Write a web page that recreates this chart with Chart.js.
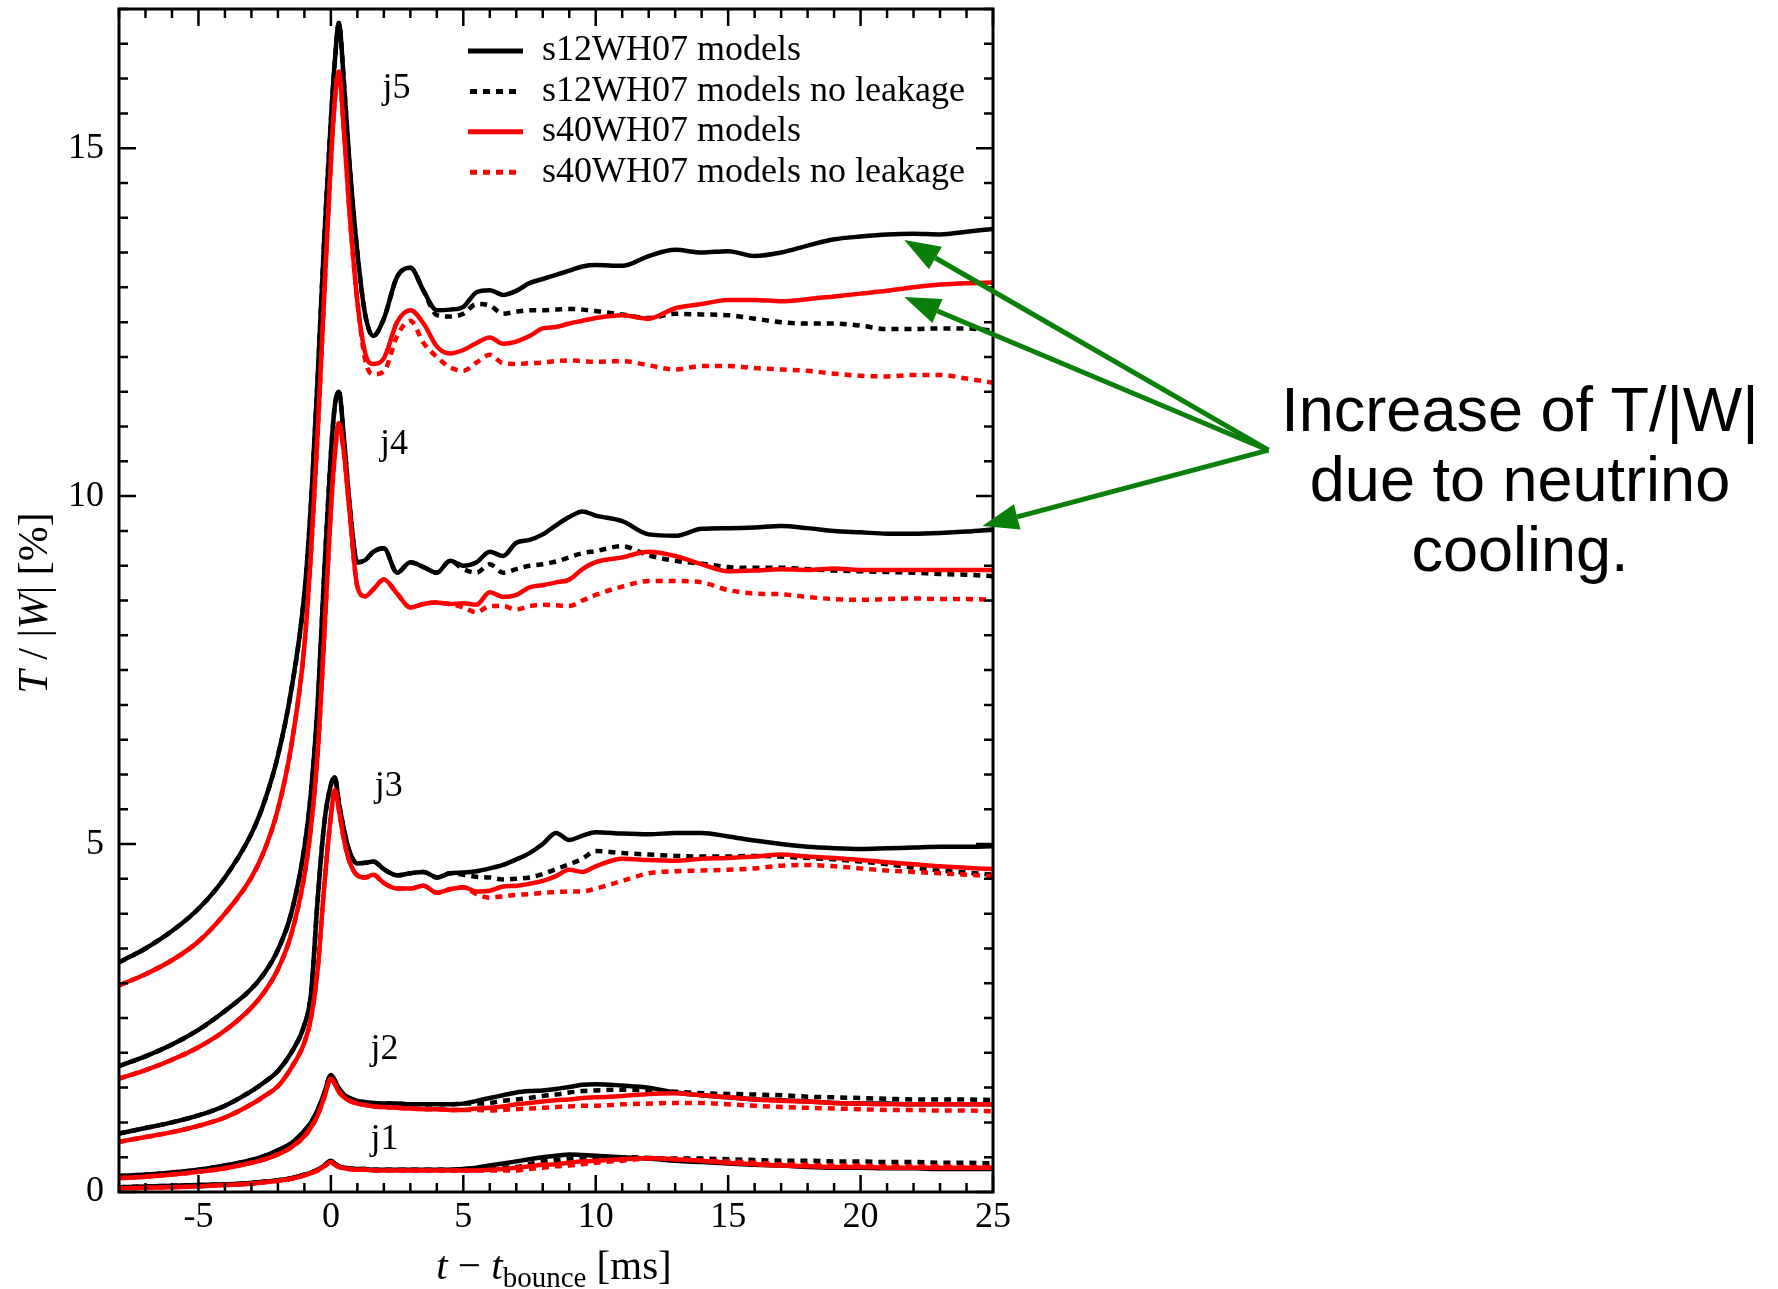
<!DOCTYPE html>
<html>
<head>
<meta charset="utf-8">
<title>T/|W| around bounce</title>
<script src="https://cdn.jsdelivr.net/npm/chart.js@4.4.1/dist/chart.umd.min.js"></script>
<style>
  html, body { margin: 0; padding: 0; background: #fff; }
</style>
</head>
<body>
<canvas id="twChart" width="1778" height="1289"></canvas>
<script>
/* Data: T/|W| [%] against t - t_bounce [ms] */
let tCollapse = [-8, -7, -6, -5, -4, -3, -2.5, -2, -1.5, -1, -0.75, -0.5, -0.25, 0, 0.15, 0.3, 0.5, 0.7, 1];
let tPost = [1.3, 1.6, 2, 2.5, 3, 3.5, 4, 4.5, 5, 5.5, 6, 6.5, 7, 7.5, 8, 8.5, 9, 9.5, 10,
             11, 12, 13, 14, 15, 16, 17, 18, 19, 20, 21, 22, 23, 24, 25];

let xTicks = [-5, 0, 5, 10, 15, 20, 25];
let yTicks = [0, 5, 10, 15];

let legendLabels = ["s12WH07 models", "s12WH07 models no leakage", "s40WH07 models", "s40WH07 models no leakage"];

/* j5 */
let j5_s12_collapse = [3.3, 3.5, 3.75, 4.07, 4.52, 5.15, 5.62, 6.27, 7.2, 8.6, 9.9, 11.7, 13.7, 15.4, 16.25, 16.8, 15.9, 14.8, 13.5];
let j5_s12_leak = [12.6, 12.3, 12.55, 13.15, 13.28, 12.95, 12.67, 12.68, 12.72, 12.93, 12.96, 12.89, 12.95, 13.06, 13.12, 13.18, 13.24, 13.3, 13.32,
                   13.31, 13.45, 13.54, 13.5, 13.52, 13.45, 13.5, 13.6, 13.69, 13.73, 13.76, 13.77, 13.76, 13.8, 13.84];
let j5_s12_noleak = [12.6, 12.3, 12.55, 13.15, 13.28, 12.95, 12.6, 12.58, 12.62, 12.76, 12.74, 12.62, 12.65, 12.67, 12.67, 12.68, 12.69, 12.68, 12.66,
                     12.61, 12.56, 12.62, 12.61, 12.6, 12.55, 12.5, 12.48, 12.48, 12.45, 12.4, 12.4, 12.41, 12.41, 12.38];
let j5_s40_collapse = [2.97, 3.13, 3.33, 3.6, 4.0, 4.52, 4.92, 5.5, 6.4, 7.85, 9.2, 10.9, 12.9, 14.8, 15.7, 16.1, 15.2, 14.1, 12.8];
let j5_s40_leak = [12.05, 11.9, 11.98, 12.5, 12.67, 12.48, 12.15, 12.05, 12.1, 12.2, 12.28, 12.19, 12.22, 12.3, 12.41, 12.43, 12.48, 12.52, 12.56,
                   12.6, 12.55, 12.7, 12.76, 12.82, 12.82, 12.8, 12.83, 12.87, 12.91, 12.95, 13.0, 13.04, 13.06, 13.07];
let j5_s40_noleak = [11.95, 11.75, 11.79, 12.3, 12.52, 12.2, 12.0, 11.85, 11.8, 11.92, 12.03, 11.91, 11.9, 11.91, 11.92, 11.94, 11.95, 11.94, 11.93,
                     11.94, 11.88, 11.82, 11.87, 11.87, 11.84, 11.82, 11.8, 11.76, 11.73, 11.72, 11.74, 11.74, 11.69, 11.63];

/* j4 */
let j4_s12_collapse = [1.81, 1.95, 2.12, 2.33, 2.6, 2.92, 3.15, 3.48, 4.0, 4.95, 5.75, 7.0, 8.9, 10.6, 11.3, 11.5, 10.8, 9.9, 9.05];
let j4_s12_leak = [9.08, 9.2, 9.25, 8.9, 9.05, 8.98, 8.9, 9.07, 9.0, 9.05, 9.2, 9.14, 9.33, 9.37, 9.45, 9.58, 9.7, 9.78, 9.72,
                   9.64, 9.45, 9.43, 9.53, 9.54, 9.55, 9.57, 9.54, 9.5, 9.48, 9.46, 9.46, 9.47, 9.49, 9.52];
let j4_s12_noleak = [9.08, 9.2, 9.25, 8.9, 9.05, 8.98, 8.9, 9.07, 8.95, 8.9, 9.02, 8.9, 8.95, 9.0, 9.02, 9.06, 9.12, 9.18, 9.21,
                     9.28, 9.15, 9.07, 9.03, 8.98, 8.97, 8.97, 8.95, 8.93, 8.92, 8.91, 8.9, 8.88, 8.87, 8.85];
let j4_s40_collapse = [1.63, 1.75, 1.9, 2.08, 2.32, 2.65, 2.88, 3.2, 3.7, 4.55, 5.25, 6.3, 8.0, 9.8, 10.6, 11.05, 10.6, 9.8, 8.7];
let j4_s40_leak = [8.56, 8.66, 8.8, 8.6, 8.4, 8.45, 8.47, 8.45, 8.46, 8.44, 8.62, 8.55, 8.58, 8.69, 8.72, 8.76, 8.8, 8.95, 9.05,
                   9.12, 9.2, 9.14, 9.02, 8.92, 8.93, 8.95, 8.94, 8.96, 8.94, 8.94, 8.94, 8.94, 8.94, 8.94];
let j4_s40_noleak = [8.56, 8.66, 8.8, 8.6, 8.4, 8.45, 8.47, 8.45, 8.4, 8.33, 8.42, 8.42, 8.37, 8.42, 8.44, 8.43, 8.42, 8.5, 8.58,
                     8.7, 8.78, 8.78, 8.76, 8.65, 8.6, 8.59, 8.55, 8.52, 8.51, 8.52, 8.53, 8.52, 8.52, 8.51];

/* j3 */
let j3_s12_collapse = [0.84, 0.92, 1.0, 1.1, 1.24, 1.45, 1.58, 1.74, 2.0, 2.4, 2.85, 4.2, 5.3, 5.85, 5.96, 5.6, 5.2, 4.9, 4.72];
let j3_s12_leak = [4.73, 4.75, 4.64, 4.55, 4.58, 4.6, 4.52, 4.58, 4.59, 4.61, 4.65, 4.7, 4.78, 4.87, 5.0, 5.16, 5.06, 5.12, 5.17,
                   5.15, 5.14, 5.16, 5.16, 5.11, 5.05, 5.0, 4.96, 4.94, 4.93, 4.94, 4.95, 4.96, 4.96, 4.97];
let j3_s12_noleak = [4.73, 4.75, 4.64, 4.55, 4.58, 4.6, 4.52, 4.58, 4.56, 4.53, 4.52, 4.49, 4.5, 4.52, 4.57, 4.64, 4.71, 4.79, 4.9,
                     4.87, 4.85, 4.83, 4.82, 4.82, 4.83, 4.82, 4.8, 4.78, 4.75, 4.71, 4.66, 4.62, 4.59, 4.56];
let j3_s40_collapse = [0.72, 0.79, 0.86, 0.95, 1.07, 1.26, 1.38, 1.52, 1.78, 2.15, 2.5, 3.2, 4.4, 5.4, 5.78, 5.5, 5.05, 4.75, 4.55];
let j3_s40_leak = [4.52, 4.56, 4.44, 4.36, 4.36, 4.4, 4.3, 4.35, 4.38, 4.32, 4.33, 4.39, 4.4, 4.43, 4.47, 4.54, 4.63, 4.6, 4.68,
                   4.79, 4.77, 4.76, 4.79, 4.8, 4.82, 4.85, 4.82, 4.8, 4.77, 4.74, 4.71, 4.68, 4.66, 4.64];
let j3_s40_noleak = [4.52, 4.56, 4.44, 4.36, 4.36, 4.4, 4.3, 4.35, 4.38, 4.28, 4.23, 4.25, 4.27, 4.28, 4.3, 4.31, 4.32, 4.32, 4.36,
                     4.47, 4.58, 4.61, 4.62, 4.63, 4.65, 4.69, 4.7, 4.68, 4.65, 4.62, 4.6, 4.58, 4.56, 4.54];

/* j2 */
let j2_s12_collapse = [0.23, 0.25, 0.28, 0.32, 0.38, 0.46, 0.52, 0.6, 0.7, 0.88, 1.0, 1.18, 1.42, 1.68, 1.6, 1.49, 1.4, 1.35, 1.31];
let j2_s12_leak = [1.29, 1.28, 1.27, 1.27, 1.26, 1.26, 1.26, 1.26, 1.27, 1.31, 1.35, 1.39, 1.43, 1.45, 1.46, 1.48, 1.51, 1.54, 1.55,
                   1.53, 1.5, 1.43, 1.39, 1.36, 1.33, 1.32, 1.3, 1.28, 1.27, 1.27, 1.26, 1.26, 1.26, 1.26];
let j2_s12_noleak = [1.29, 1.28, 1.27, 1.27, 1.26, 1.26, 1.26, 1.26, 1.27, 1.27, 1.28, 1.31, 1.33, 1.35, 1.38, 1.4, 1.43, 1.45, 1.46,
                     1.47, 1.46, 1.44, 1.42, 1.41, 1.4, 1.39, 1.37, 1.36, 1.35, 1.34, 1.33, 1.33, 1.33, 1.32];
let j2_s40_collapse = [0.2, 0.22, 0.25, 0.29, 0.34, 0.42, 0.47, 0.54, 0.64, 0.8, 0.93, 1.1, 1.36, 1.63, 1.55, 1.44, 1.36, 1.31, 1.27];
let j2_s40_leak = [1.25, 1.23, 1.22, 1.21, 1.2, 1.19, 1.19, 1.18, 1.18, 1.2, 1.21, 1.23, 1.26, 1.28, 1.3, 1.32, 1.33, 1.35, 1.36,
                   1.38, 1.41, 1.42, 1.39, 1.36, 1.33, 1.31, 1.3, 1.28, 1.27, 1.26, 1.26, 1.26, 1.26, 1.26];
let j2_s40_noleak = [1.25, 1.23, 1.22, 1.21, 1.2, 1.19, 1.19, 1.18, 1.18, 1.18, 1.17, 1.18, 1.19, 1.2, 1.21, 1.22, 1.23, 1.24, 1.24,
                     1.26, 1.27, 1.28, 1.28, 1.26, 1.24, 1.22, 1.21, 1.2, 1.19, 1.18, 1.18, 1.17, 1.17, 1.16];

/* j1 */
let j1_s12_collapse = [0.07, 0.08, 0.09, 0.1, 0.11, 0.13, 0.15, 0.17, 0.2, 0.25, 0.28, 0.32, 0.38, 0.45, 0.41, 0.37, 0.35, 0.34, 0.33];
let j1_s12_leak = [0.33, 0.32, 0.32, 0.32, 0.32, 0.32, 0.32, 0.32, 0.33, 0.35, 0.38, 0.41, 0.44, 0.47, 0.5, 0.52, 0.54, 0.53, 0.52,
                   0.5, 0.48, 0.45, 0.43, 0.41, 0.39, 0.38, 0.36, 0.35, 0.35, 0.34, 0.34, 0.33, 0.33, 0.33];
let j1_s12_noleak = [0.33, 0.32, 0.32, 0.32, 0.32, 0.32, 0.32, 0.32, 0.33, 0.34, 0.34, 0.35, 0.36, 0.4, 0.44, 0.46, 0.48, 0.49, 0.5,
                     0.5, 0.49, 0.48, 0.48, 0.47, 0.46, 0.45, 0.45, 0.44, 0.44, 0.43, 0.43, 0.42, 0.42, 0.41];
let j1_s40_collapse = [0.05, 0.06, 0.07, 0.08, 0.1, 0.12, 0.14, 0.16, 0.19, 0.24, 0.27, 0.31, 0.37, 0.43, 0.39, 0.36, 0.34, 0.33, 0.32];
let j1_s40_leak = [0.32, 0.31, 0.31, 0.31, 0.31, 0.31, 0.31, 0.31, 0.31, 0.31, 0.32, 0.33, 0.35, 0.37, 0.39, 0.4, 0.42, 0.44, 0.45,
                   0.47, 0.49, 0.47, 0.45, 0.42, 0.4, 0.38, 0.37, 0.36, 0.36, 0.35, 0.35, 0.35, 0.35, 0.35];
let j1_s40_noleak = [0.32, 0.31, 0.31, 0.31, 0.31, 0.31, 0.31, 0.31, 0.31, 0.31, 0.31, 0.31, 0.31, 0.33, 0.35, 0.37, 0.38, 0.4, 0.42,
                     0.45, 0.48, 0.47, 0.45, 0.44, 0.42, 0.4, 0.39, 0.38, 0.38, 0.37, 0.37, 0.37, 0.36, 0.36];

/* Curve labels and annotation anchors (data coordinates) */
let curveLabels = [["j5", 1.95, 15.86], ["j4", 1.85, 10.74], ["j3", 1.66, 5.83], ["j2", 1.5, 2.05], ["j1", 1.5, 0.76]];
let noteLines = ["Increase of T/|W|", "due to neutrino", "cooling."];
let arrowFrom = [35.4, 10.66];
let arrowTips = [[21.65, 13.68], [21.65, 12.86], [24.6, 9.57]];

/* Build datasets */
const SERIF = '"Liberation Serif", "Times New Roman", serif';
const SANS = '"Liberation Sans", Arial, sans-serif';
const time = tCollapse.concat(tPost);

function toPoints(collapse, post) {
    return collapse.concat(post).map(function (v, i) { return { x: time[i], y: v }; });
}

let groups = [
    [j1_s12_collapse, j1_s12_leak, j1_s12_noleak, j1_s40_collapse, j1_s40_leak, j1_s40_noleak],
    [j2_s12_collapse, j2_s12_leak, j2_s12_noleak, j2_s40_collapse, j2_s40_leak, j2_s40_noleak],
    [j3_s12_collapse, j3_s12_leak, j3_s12_noleak, j3_s40_collapse, j3_s40_leak, j3_s40_noleak],
    [j4_s12_collapse, j4_s12_leak, j4_s12_noleak, j4_s40_collapse, j4_s40_leak, j4_s40_noleak],
    [j5_s12_collapse, j5_s12_leak, j5_s12_noleak, j5_s40_collapse, j5_s40_leak, j5_s40_noleak]
];

const styles = [
    { color: "#000000", dash: [], order: 3 },
    { color: "#000000", dash: [7, 6], order: 2 },
    { color: "#ff0000", dash: [], order: 1 },
    { color: "#ff0000", dash: [7, 6], order: 0 }
];

let datasets = [];
groups.forEach(function (g) {
    let series = [toPoints(g[0], g[1]), toPoints(g[0], g[2]), toPoints(g[3], g[4]), toPoints(g[3], g[5])];
    series.forEach(function (pts, k) {
        datasets.push({
            data: pts,
            borderColor: styles[k].color,
            borderDash: styles[k].dash,
            borderWidth: 4.5,
            pointRadius: 0,
            fill: false,
            cubicInterpolationMode: "monotone",
            order: styles[k].order
        });
    });
});

/* Frame, ticks, legend, titles, annotation */
function drawArrow(ctx, x0, y0, x1, y1) {
    const ang = Math.atan2(y1 - y0, x1 - x0);
    const L = 36, W = 13;
    const bx = x1 - L * Math.cos(ang), by = y1 - L * Math.sin(ang);
    ctx.beginPath();
    ctx.moveTo(x0, y0);
    ctx.lineTo(bx, by);
    ctx.stroke();
    ctx.beginPath();
    ctx.moveTo(x1, y1);
    ctx.lineTo(bx + W * Math.sin(ang), by - W * Math.cos(ang));
    ctx.lineTo(bx - W * Math.sin(ang), by + W * Math.cos(ang));
    ctx.closePath();
    ctx.fill();
}

function drawPieces(ctx, pieces, x, y, align) {
    let total = 0;
    pieces.forEach(function (p) { ctx.font = p.font; total += ctx.measureText(p.text).width; });
    let cx = align === "center" ? x - total / 2 : x;
    ctx.textAlign = "left";
    pieces.forEach(function (p) {
        ctx.font = p.font;
        ctx.fillText(p.text, cx, y + (p.dy || 0));
        cx += ctx.measureText(p.text).width;
    });
}

const decorations = {
    id: "decorations",
    afterDraw: function (chart) {
        const ctx = chart.ctx;
        const a = chart.chartArea;
        const xs = chart.scales.x, ys = chart.scales.y;
        ctx.save();

        // box
        ctx.strokeStyle = "#000";
        ctx.lineWidth = 3;
        ctx.strokeRect(a.left, a.top, a.right - a.left, a.bottom - a.top);

        // inward ticks on all four sides
        ctx.lineWidth = 2.5;
        ctx.beginPath();
        for (let v = -8; v <= 25; v++) {
            const px = xs.getPixelForValue(v);
            const len = v % 5 === 0 ? 17 : 9;
            ctx.moveTo(px, a.bottom); ctx.lineTo(px, a.bottom - len);
            ctx.moveTo(px, a.top); ctx.lineTo(px, a.top + len);
        }
        for (let k = 0; k <= 34; k++) {
            const py = ys.getPixelForValue(k / 2);
            const len = k % 10 === 0 ? 17 : 9;
            ctx.moveTo(a.left, py); ctx.lineTo(a.left + len, py);
            ctx.moveTo(a.right, py); ctx.lineTo(a.right - len, py);
        }
        ctx.stroke();

        // legend
        ctx.textBaseline = "middle";
        ctx.fillStyle = "#000";
        legendLabels.forEach(function (label, i) {
            const y = a.top + 42 + i * 40.4;
            const st = styles[i];
            ctx.strokeStyle = st.color;
            ctx.lineWidth = 5;
            ctx.beginPath();
            if (st.dash.length) {
                ctx.setLineDash([7, 6]);
                ctx.moveTo(a.left + 351, y);
                ctx.lineTo(a.left + 397, y);
            } else {
                ctx.moveTo(a.left + 349, y);
                ctx.lineTo(a.left + 404, y);
            }
            ctx.stroke();
            ctx.setLineDash([]);
            ctx.font = "36px " + SERIF;
            ctx.textAlign = "left";
            ctx.fillText(label, a.left + 423, y);
        });

        // curve labels
        ctx.font = "36px " + SERIF;
        curveLabels.forEach(function (c) {
            ctx.fillText(c[0], xs.getPixelForValue(c[1]), ys.getPixelForValue(c[2]));
        });

        // axis titles
        ctx.textBaseline = "alphabetic";
        const it = "italic 41px " + SERIF, up = "41px " + SERIF;
        drawPieces(ctx, [
            { text: "t", font: it },
            { text: " \u2212 ", font: up },
            { text: "t", font: it },
            { text: "bounce", font: "29px " + SERIF, dy: 8 },
            { text: " [ms]", font: up }
        ], (a.left + a.right) / 2 - 2, 1279, "center");

        ctx.save();
        ctx.translate(47, 603);
        ctx.rotate(-Math.PI / 2);
        drawPieces(ctx, [
            { text: "T", font: "italic 42px " + SERIF },
            { text: " / ", font: "42px " + SERIF },
            { text: "|", font: "42px " + SERIF },
            { text: "W", font: "italic 42px " + SERIF },
            { text: "|", font: "42px " + SERIF },
            { text: " [%]", font: "42px " + SERIF }
        ], 0, 0, "center");
        ctx.restore();

        // annotation
        ctx.fillStyle = "#000";
        ctx.font = "63px " + SANS;
        ctx.textAlign = "center";
        noteLines.forEach(function (line, i) {
            ctx.fillText(line, 1520, 431 + i * 70);
        });

        ctx.strokeStyle = "#0a7f0a";
        ctx.fillStyle = "#0a7f0a";
        ctx.lineWidth = 5;
        const ox = xs.getPixelForValue(arrowFrom[0]), oy = ys.getPixelForValue(arrowFrom[1]);
        arrowTips.forEach(function (p) {
            drawArrow(ctx, ox, oy, xs.getPixelForValue(p[0]), ys.getPixelForValue(p[1]));
        });

        ctx.restore();
    }
};

new Chart("twChart", {
    type: "line",
    data: { datasets: datasets },
    options: {
        responsive: false,
        animation: false,
        devicePixelRatio: 1,
        layout: { padding: { top: 9, right: 785, left: 0, bottom: 0 } },
        plugins: { legend: { display: false }, tooltip: { enabled: false } },
        scales: {
            x: {
                type: "linear",
                min: -8,
                max: 25,
                grid: { display: false, drawTicks: false },
                border: { display: false },
                afterBuildTicks: function (s) { s.ticks = xTicks.map(function (v) { return { value: v }; }); },
                afterFit: function (s) { s.height = 97; s.paddingLeft = 0; s.paddingRight = 0; },
                ticks: { font: { family: SERIF, size: 36 }, color: "#000", padding: 4, maxRotation: 0, autoSkip: false }
            },
            y: {
                type: "linear",
                min: 0,
                max: 17,
                grid: { display: false, drawTicks: false },
                border: { display: false },
                afterBuildTicks: function (s) { s.ticks = yTicks.map(function (v) { return { value: v }; }); },
                afterFit: function (s) { s.width = 119; s.paddingTop = 0; s.paddingBottom = 0; },
                ticks: { font: { family: SERIF, size: 36 }, color: "#000", padding: 15, autoSkip: false }
            }
        }
    },
    plugins: [decorations]
});
</script>
</body>
</html>
